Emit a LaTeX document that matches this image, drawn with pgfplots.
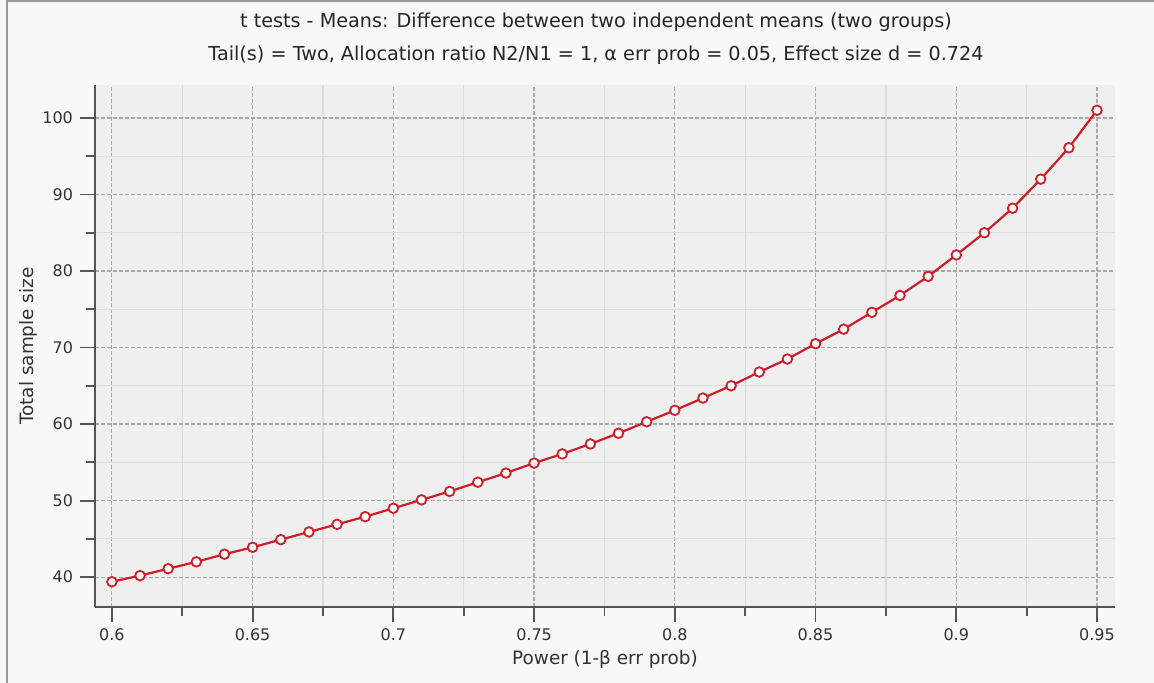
\documentclass[border=0pt]{standalone}
\usepackage{pgfplots}
\pgfplotsset{compat=1.18}
\usepackage{fontspec}
\setmainfont{DejaVu Sans}

\definecolor{pagebg}{HTML}{F8F8F8}
\definecolor{plotbg}{HTML}{EFEFEF}
\definecolor{framecol}{HTML}{9A9A9A}
\definecolor{axiscol}{HTML}{555555}
\definecolor{majgrid}{HTML}{A8A8A8}
\definecolor{mingrid}{HTML}{DDDDDD}
\definecolor{curve}{HTML}{CC1F2A}

\pgfplotstableread{
power n
0.60 39.4
0.61 40.2
0.62 41.1
0.63 42.0
0.64 43.0
0.65 43.9
0.66 44.9
0.67 45.9
0.68 46.9
0.69 47.9
0.70 49.0
0.71 50.1
0.72 51.2
0.73 52.4
0.74 53.6
0.75 54.9
0.76 56.1
0.77 57.4
0.78 58.8
0.79 60.3
0.80 61.8
0.81 63.4
0.82 65.0
0.83 66.8
0.84 68.5
0.85 70.5
0.86 72.4
0.87 74.6
0.88 76.8
0.89 79.3
0.90 82.1
0.91 85.0
0.92 88.2
0.93 92.0
0.94 96.1
0.95 101.0
}\samplesize

\begin{document}
\begin{tikzpicture}
  \fill[pagebg, use as bounding box] (0,0) rectangle (577pt,341.5pt);
  \draw[framecol, line width=0.8pt] (3.5pt,0) -- (3.5pt,340.9pt) -- (577pt,340.9pt);
  \begin{axis}[
    at={(47.5pt,38pt)}, anchor=south west,
    scale only axis, width=510pt, height=261pt,
    xmin=0.594, xmax=0.9564, ymin=36.1, ymax=104.3,
    axis x line*=bottom, axis y line*=left,
    axis line style={-, axiscol, line width=1pt},
    axis background/.style={fill=plotbg},
    xtick={0.6,0.65,0.7,0.75,0.8,0.85,0.9,0.95},
    xticklabels={0.6,0.65,0.7,0.75,0.8,0.85,0.9,0.95},
    ytick={40,50,60,70,80,90,100},
    minor x tick num=1, minor y tick num=1,
    tick align=outside,
    major tick length=7.5pt, minor tick length=4.5pt,
    tick style={axiscol, line width=0.9pt},
    xmajorgrids, ymajorgrids, xminorgrids, yminorgrids,
    major grid style={majgrid, line width=0.6pt, dash pattern=on 2pt off 1pt},
    minor grid style={mingrid, line width=0.6pt, solid},
    /pgf/number format/assume math mode=true,
    tick label style={font=\fontsize{8}{9}\selectfont, text=black!80},
    title={t tests - Means: Difference between two independent means (two groups)\\Tail(s) = Two, Allocation ratio N2/N1 = 1, α err prob = 0.05, Effect size d = 0.724},
    title style={font=\fontsize{9.6}{16.5}\selectfont, align=center,
      at={(0.5,1)}, anchor=south, yshift=0.8pt, xshift=-4.5pt, text=black!85},
    xlabel={Power (1-β err prob)},
    ylabel={Total sample size},
    label style={font=\fontsize{9.2}{10}\selectfont, text=black!80},
    xlabel style={at={(axis description cs:0.5,-0.0996)}, anchor=center},
    ylabel style={at={(axis description cs:-0.0657,0.5)}, anchor=center},
    clip=false,
  ]
    \addplot[curve, line width=1.1pt, mark=*,
      mark size=2.4pt, mark options={fill=white, draw=curve, line width=0.9pt}]
      table[x=power, y=n] {\samplesize};
  \end{axis}
\end{tikzpicture}
\end{document}
